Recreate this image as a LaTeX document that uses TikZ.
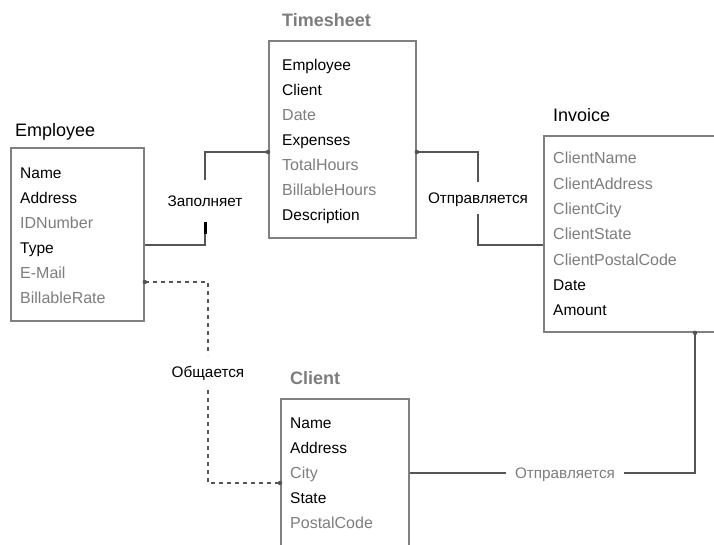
\documentclass[tikz,border=0pt]{standalone}
\usepackage{fontspec}
\setmainfont{Liberation Sans}
\usetikzlibrary{positioning}
\definecolor{boxgray}{RGB}{128,128,128}
\definecolor{linegray}{RGB}{85,85,85}
\definecolor{txtgray}{RGB}{125,125,125}
\begin{document}
\begin{tikzpicture}[x=1pt,y=-1pt,
  entity/.style={draw=boxgray, line width=1.8pt, anchor=north west, inner sep=0pt},
  title/.style={anchor=base west, inner sep=0pt, font=\fontsize{18}{20}\selectfont},
  gtitle/.style={title, text=txtgray, font=\fontsize{18}{20}\selectfont\bfseries},
  fld/.style={anchor=base west, inner sep=0pt, font=\fontsize{15.5}{18}\selectfont},
  gfld/.style={fld, text=txtgray, font=\fontsize{16}{18}\selectfont},
  link/.style={draw=linegray, line width=1.4pt},
  dlink/.style={link, dash pattern=on 4pt off 4pt},
  rel/.style={inner xsep=1pt, text height=10.5pt, text depth=0pt, font=\fontsize{15.3}{17}\selectfont},
  joint/.style={circle, fill=linegray, inner sep=0pt, minimum size=4.5pt}]
\clip (0,0) rectangle (714,544);
\node[entity, minimum width=133pt, minimum height=173pt] (emp) at (10,147) {};
\node[entity, minimum width=147pt, minimum height=197pt] (ts) at (268,40) {};
\node[entity, minimum width=185pt, minimum height=196pt] (inv) at (543,135) {};
\node[entity, minimum width=128pt, minimum height=165pt] (cl) at (280,398) {};
\node[title] (empT) at (15,136.5) {Employee};
\node[gtitle] (tsT) at (282,26.5) {Timesheet};
\node[title] (invT) at (553,121.5) {Invoice};
\node[gtitle] (clT) at (290,384.5) {Client};
\foreach \t/\s [count=\i] in {Name/fld, Address/fld, IDNumber/gfld, Type/fld, E-Mail/gfld, BillableRate/gfld}
  \node[\s] (emp\i) at (20,153.5+25*\i) {\t};
\foreach \t/\s [count=\i] in {Employee/fld, Client/fld, Date/gfld, Expenses/fld, TotalHours/gfld, BillableHours/gfld, Description/fld}
  \node[\s] (ts\i) at (282,45.5+25*\i) {\t};
\foreach \t/\s [count=\i] in {ClientName/gfld, ClientAddress/gfld, ClientCity/gfld, ClientState/gfld, ClientPostalCode/gfld, Date/fld, Amount/fld}
  \node[\s] (inv\i) at (553,138.5+25.3*\i) {\t};
\foreach \t/\s [count=\i] in {Name/fld, Address/fld, City/gfld, State/fld, PostalCode/gfld}
  \node[\s] (cl\i) at (290,403.5+25*\i) {\t};
\node[rel, inner ysep=16pt] (fills) at (205,201) {Заполняет};
\node[rel, inner ysep=10.5pt] (sends) at (478,198) {Отправляется};
\node[rel, inner ysep=12.25pt] (talks) at (208,372.5) {Общается};
\node[rel, inner xsep=9pt, text=txtgray] (bills) at (565,473) {Отправляется};
\draw[link] (emp.east |- 0,245) -| (fills.south);
\draw[line width=3pt] (fills.south) -- ++(0,12);
\draw[link] (fills.north) |- (ts.west |- 0,152);
\draw[link] (ts.east |- 0,152) -| (sends.north);
\draw[link] (sends.south) |- (inv.west |- 0,245);
\draw[link] (inv.south -| 695,0) |- (bills.east);
\draw[link] (bills.west) -- (cl.east |- bills);
\draw[dlink] (emp.east |- 0,282) -| (talks.north);
\draw[dlink] (talks.south) |- (cl.west |- 0,483);
\node[joint] (j1) at (ts.west |- 0,152) {};
\node[joint] (j2) at (ts.east |- 0,152) {};
\node[joint] (j3) at (inv.south -| 695,0) {};
\node[joint] (j4) at (emp.east |- 0,282) {};
\node[joint] (j5) at (cl.west |- 0,483) {};
\end{tikzpicture}
\end{document}
